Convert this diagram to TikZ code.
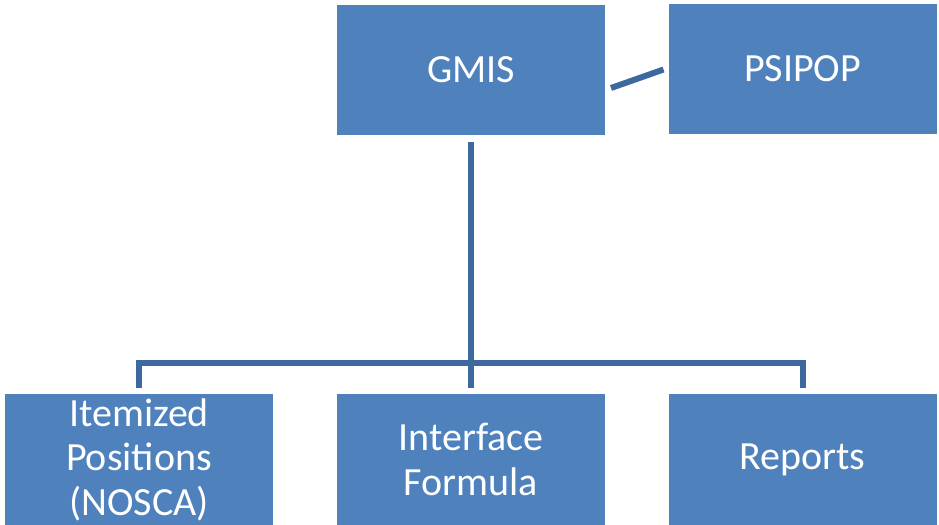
\documentclass[tikz,border=0pt]{standalone}
\usepackage{fontspec}
\setmainfont{Carlito}
\definecolor{boxblue}{HTML}{4F81BD}
\definecolor{lineblue}{HTML}{3D6A9E}
\tikzset{
  orgbox/.style={fill=boxblue, draw=none, text=white, minimum width=134pt, minimum height=65pt,
    inner sep=0pt, outer sep=0pt, align=center, font=\fontsize{20}{22.3}\selectfont},
  link/.style={draw=lineblue, line width=3pt}
}
\begin{document}
\begin{tikzpicture}[x=0.5pt, y=-0.5pt]
  \useasboundingbox (0,0) rectangle (939,525);
  \node[orgbox] (gmis) at (471,70) {GMIS};
  \node[orgbox] (psipop) at (802.5,68.5) {PSIPOP};
  \node[orgbox, minimum height=65.5pt] (items) at (139,459.5) {Itemized\\Positions\\(NOSCA)};
  \node[orgbox, minimum height=65.5pt] (formula) at (471,459.5) {Interface\\Formula};
  \node[orgbox, minimum height=65.5pt] (reports) at (802.5,459.5) {Reports};
  \coordinate (bus) at (471,362.5);
  \draw[link] ([xshift=3pt,yshift=-9pt]gmis.east) -- ([xshift=-2.5pt,yshift=-0.5pt]psipop.west);
  \draw[link] ([yshift=-3.5pt]gmis.south) -- ([yshift=3pt]formula.north);
  \draw[link, line join=miter] ([yshift=3pt]items.north) |- (bus) -| ([yshift=3pt]reports.north);
\end{tikzpicture}
\end{document}
